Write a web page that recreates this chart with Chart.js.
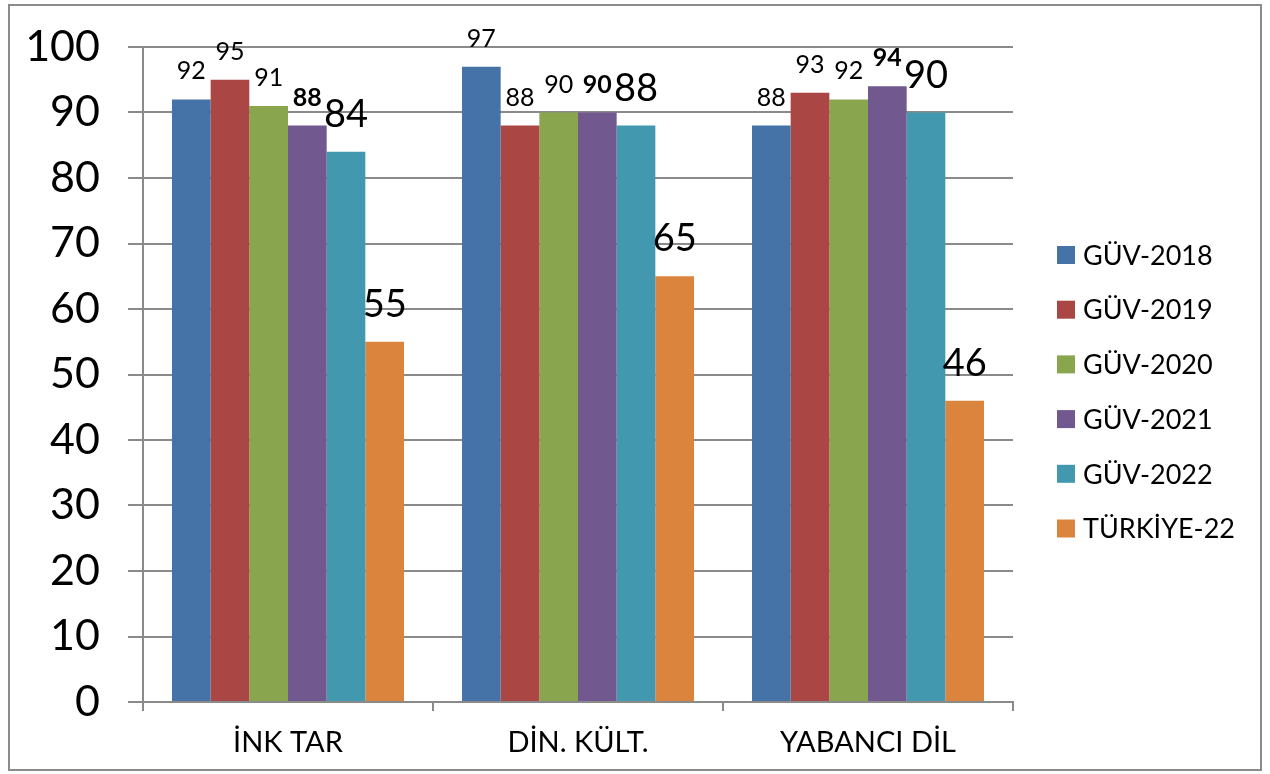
<!DOCTYPE html>
<html>
<head>
<meta charset="utf-8">
<script src="https://cdn.jsdelivr.net/npm/chart.js@4/dist/chart.umd.min.js"></script>
<style>
    html, body { margin: 0; padding: 0; background: #fff; }
    #wrap { width: 1270px; height: 774px; position: relative; }
</style>
</head>
<body>
<div id="wrap"><canvas id="chart"></canvas></div>
<script>
"use strict";
const categories = ['İNK TAR', 'DİN. KÜLT.', 'YABANCI DİL'];
const seriesNames = ['GÜV-2018', 'GÜV-2019', 'GÜV-2020', 'GÜV-2021', 'GÜV-2022', 'TÜRKİYE-22'];
const guv2018 = [92, 97, 88];
const guv2019 = [95, 88, 93];
const guv2020 = [91, 90, 92];
const guv2021 = [88, 90, 94];
const guv2022 = [84, 88, 90];
const turkiye22 = [55, 65, 46];

const seriesValues = [guv2018, guv2019, guv2020, guv2021, guv2022, turkiye22];
const colors = ['#4572A7', '#AA4643', '#89A54E', '#71588F', '#4198AF', '#DB843D'];
// label style for each series: small, small, small, bold, large, large
const labelFonts = [
    { size: 25, weight: 'normal', gap: 20 },
    { size: 25, weight: 'normal', gap: 20 },
    { size: 25, weight: 'normal', gap: 20 },
    { size: 25, weight: 'bold', gap: 20 },
    { size: 38, weight: 'normal', gap: 25 },
    { size: 38, weight: 'normal', gap: 25 }
];
const FONT = 'Lato, "Liberation Sans", sans-serif';
const GRID = '#8a8a8a';

const valueLabels = {
    id: 'valueLabels',
    afterDatasetsDraw(chart) {
        const ctx = chart.ctx;
        ctx.save();
        ctx.fillStyle = '#000';
        ctx.textAlign = 'center';
        ctx.textBaseline = 'alphabetic';
        chart.data.datasets.forEach((ds, i) => {
            const meta = chart.getDatasetMeta(i);
            const f = labelFonts[i];
            ctx.font = f.weight + ' ' + f.size + 'px ' + FONT;
            meta.data.forEach((bar, j) => {
                ctx.fillText(String(ds.data[j]), bar.x, bar.y - f.gap);
            });
        });
        ctx.restore();
    }
};

// legend drawn by hand, one row per dataset, to the right of the plot
const sideLegend = {
    id: 'sideLegend',
    afterDraw(chart) {
        const ctx = chart.ctx;
        const x = chart.chartArea.right + 44;
        const y0 = 255;
        const step = 54.7;
        ctx.save();
        ctx.font = '27px ' + FONT;
        ctx.textAlign = 'left';
        ctx.textBaseline = 'middle';
        chart.data.datasets.forEach((ds, i) => {
            const cy = y0 + i * step;
            ctx.fillStyle = ds.backgroundColor;
            ctx.fillRect(x, cy - 9, 18, 18);
            ctx.fillStyle = '#000';
            ctx.fillText(ds.label, x + 26, cy + 1);
        });
        ctx.restore();
    }
};

const frame = {
    id: 'frame',
    beforeDraw(chart) {
        const ctx = chart.ctx;
        ctx.save();
        ctx.fillStyle = '#fff';
        ctx.fillRect(0, 0, chart.width, chart.height);
        ctx.restore();
    },
    afterDraw(chart) {
        const ctx = chart.ctx;
        ctx.save();
        ctx.strokeStyle = '#8c8c8c';
        ctx.lineWidth = 2;
        ctx.strokeRect(9, 5, 1252, 765);
        ctx.restore();
    }
};

const datasets = seriesNames.map((name, i) => ({
    label: name,
    data: seriesValues[i],
    backgroundColor: colors[i],
    borderWidth: 0,
    categoryPercentage: 0.8,
    barPercentage: 1.0
}));

new Chart(document.getElementById('chart').getContext('2d'), {
    type: 'bar',
    data: { labels: categories, datasets },
    options: {
        responsive: true,
        maintainAspectRatio: false,
        animation: false,
        layout: { padding: { left: 26, right: 257, top: 47, bottom: 0 } },
        plugins: {
            tooltip: { enabled: false },
            legend: { display: false }
        },
        scales: {
            x: {
                grid: { display: true, drawOnChartArea: false, drawTicks: true, tickLength: 9, color: GRID, lineWidth: 2, offset: true },
                border: { display: true, color: GRID, width: 2 },
                ticks: { color: '#000', padding: 14, font: { family: FONT, size: 29 } },
                afterFit(scale) {
                    scale.height = 72;
                    scale.paddingLeft = 0;
                    scale.paddingRight = 0;
                }
            },
            y: {
                min: 0,
                max: 100,
                grid: { color: GRID, lineWidth: 2, tickLength: 15 },
                border: { display: true, color: GRID, width: 2 },
                ticks: { stepSize: 10, color: '#000', padding: 28, font: { family: FONT, size: 43 } },
                afterFit(scale) {
                    scale.width = 117;
                    scale.paddingTop = 0;
                    scale.paddingBottom = 0;
                }
            }
        }
    },
    plugins: [valueLabels, sideLegend, frame]
});
</script>
</body>
</html>
